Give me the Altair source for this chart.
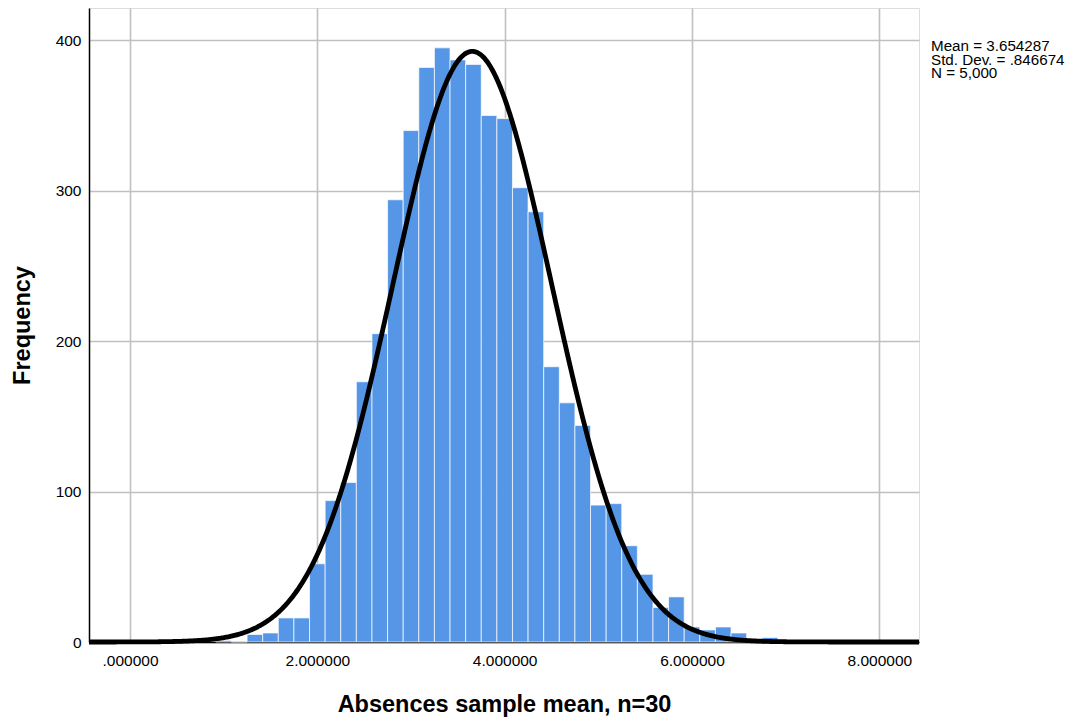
import altair as alt
import pandas as pd
import numpy as np

# Histogram bins (lower edge of each bin) and frequencies
bin_start = [0.9167, 1.0833, 1.25, 1.4167, 1.5833, 1.75, 1.9167, 2.0833, 2.25,
             2.4167, 2.5833, 2.75, 2.9167, 3.0833, 3.25, 3.4167, 3.5833, 3.75,
             3.9167, 4.0833, 4.25, 4.4167, 4.5833, 4.75, 4.9167, 5.0833, 5.25,
             5.4167, 5.5833, 5.75, 5.9167, 6.0833, 6.25, 6.4167, 6.5833, 6.75]
counts = [1, 0, 5, 6, 16, 16, 52, 94, 106,
          173, 205, 294, 340, 382, 395, 387, 384, 350,
          348, 302, 286, 183, 159, 144, 91, 92, 64,
          45, 23, 30, 10, 8, 10, 6, 1, 3]
bin_width = 1 / 6

# Summary statistics shown on the chart (define the normal curve)
MEAN = 3.654287
SD = 0.846674
N = 5000

x_ticks = [0, 2, 4, 6, 8]
x_tick_labels = [".000000", "2.000000", "4.000000", "6.000000", "8.000000"]
y_ticks = [0, 100, 200, 300, 400]

x_domain = [-0.4377, 8.4233]
y_domain = [0, 421.5]

annotation = "Mean = 3.654287\nStd. Dev. = .846674\nN = 5,000"

bins_df = pd.DataFrame({
    "lo": bin_start,
    "hi": [b + bin_width for b in bin_start],
    "count": counts,
    "zero": [0] * len(counts),
})

xs = np.linspace(x_domain[0], x_domain[1], 800)
curve_df = pd.DataFrame({
    "x": xs,
    "y": N * bin_width * np.exp(-0.5 * ((xs - MEAN) / SD) ** 2) / (SD * np.sqrt(2 * np.pi)),
})

FONT = "Liberation Sans"
label_expr = "[" + ",".join("'%s'" % s for s in x_tick_labels) + "][round(datum.value/2)]"

xscale = alt.Scale(domain=x_domain, nice=False, zero=False)
yscale = alt.Scale(domain=y_domain, nice=False)

xaxis = alt.Axis(values=x_ticks, labelExpr=label_expr, grid=True, ticks=False, tickSize=0,
                 labelPadding=11, labelFontSize=15.5, labelFont=FONT, labelColor="#000000",
                 titleFont=FONT, titleFontSize=23.5, titleFontWeight="bold", titleColor="#000000",
                 titlePadding=24, domainColor="#000000", domainWidth=1.5,
                 gridColor="#c0c0c0", gridWidth=1.6)
yaxis = alt.Axis(values=y_ticks, grid=True, ticks=False, tickSize=0,
                 labelPadding=8, labelFontSize=15.5, labelFont=FONT, labelColor="#000000",
                 titleFont=FONT, titleFontSize=23.5, titleFontWeight="bold", titleColor="#000000",
                 titlePadding=21, domainColor="#000000", domainWidth=1.5,
                 gridColor="#c0c0c0", gridWidth=1.6)

bars = alt.Chart(bins_df).mark_rect(color="#5596e6", stroke="#ffffff", strokeWidth=0.7).encode(
    x=alt.X("lo:Q", scale=xscale, axis=xaxis, title="Absences sample mean, n=30"),
    x2="hi:Q",
    y=alt.Y("count:Q", scale=yscale, axis=yaxis, title="Frequency"),
    y2="zero:Q",
)

curve = alt.Chart(curve_df).mark_line(color="#000000", strokeWidth=4.8).encode(
    x=alt.X("x:Q", scale=xscale),
    y=alt.Y("y:Q", scale=yscale),
)

text = alt.Chart(pd.DataFrame({"t": [annotation]})).mark_text(
    align="left", baseline="top", font=FONT, fontSize=15.2, lineHeight=13.6,
    lineBreak="\n", color="#000000",
).encode(x=alt.value(842), y=alt.value(31), text="t:N")

chart = alt.layer(bars, curve, text).properties(
    width=830, height=634,
    autosize=alt.AutoSizeParams(type="none"),
    padding={"left": 81, "top": 0, "right": 151, "bottom": 77},
).configure_view(stroke=None).configure(background="#ffffff")

chart.save("out.html", embed_options={"renderer": "svg", "actions": False})
